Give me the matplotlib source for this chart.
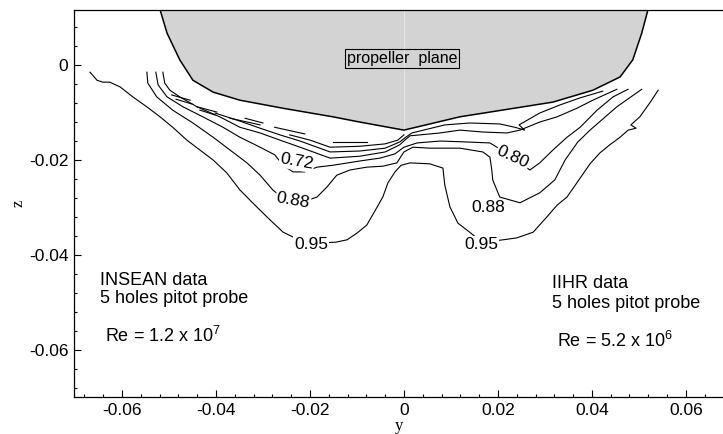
import matplotlib
matplotlib.use("Agg")
import matplotlib.pyplot as plt
from matplotlib.ticker import FixedLocator, MultipleLocator

plt.rcParams['font.family'] = ['Liberation Sans', 'DejaVu Sans']
plt.rcParams['axes.unicode_minus'] = False
plt.rcParams['mathtext.default'] = 'regular'

# hull section cut by the propeller plane
hull_y = [-0.0523, -0.0504, -0.0477, -0.0449, -0.0406, -0.0349, -0.0257, -0.0151, -0.0094,
          0.0, 0.0119, 0.0317, 0.0402, 0.0460, 0.0487, 0.0506, 0.0523]
hull_z = [0.0130, 0.0067, 0.0011, -0.0032, -0.0057, -0.0074, -0.0091, -0.0109, -0.0120,
          -0.0137, -0.0109, -0.0078, -0.0053, -0.0025, 0.0011, 0.0067, 0.0130]

# wake contour lines (y, z)
c95_y = [-0.0668, -0.0653, -0.0641, -0.0626, -0.0604, -0.0577, -0.0547, -0.0519, -0.0492, -0.0462,
         -0.0434, -0.0406, -0.0377, -0.0349, -0.0317, -0.0285, -0.0257, -0.0232, -0.0187, -0.0145,
         -0.0121, -0.0100, -0.0079, -0.0057, -0.0045, -0.0034, -0.0019, -0.0006, 0.0013, 0.0055,
         0.0083, 0.0087, 0.0098, 0.0115, 0.0140, 0.0166, 0.0211, 0.0240, 0.0275, 0.0304,
         0.0326, 0.0347, 0.0375, 0.0396, 0.0417, 0.0438, 0.0460, 0.0477, 0.0494, 0.0483,
         0.0502, 0.0523, 0.0541]
c95_z = [-0.0015, -0.0032, -0.0036, -0.0036, -0.0046, -0.0067, -0.0088, -0.0109, -0.0131, -0.0158,
         -0.0179, -0.0200, -0.0227, -0.0263, -0.0295, -0.0326, -0.0352, -0.0364, -0.0375, -0.0373,
         -0.0368, -0.0354, -0.0337, -0.0299, -0.0278, -0.0248, -0.0225, -0.0211, -0.0206, -0.0208,
         -0.0217, -0.0253, -0.0299, -0.0333, -0.0352, -0.0373, -0.0368, -0.0364, -0.0352, -0.0320,
         -0.0295, -0.0278, -0.0238, -0.0208, -0.0185, -0.0168, -0.0152, -0.0137, -0.0133, -0.0126,
         -0.0109, -0.0080, -0.0053]

c88_y = [-0.0547, -0.0545, -0.0526, -0.0492, -0.0449, -0.0406, -0.0370, -0.0334, -0.0306, -0.0279,
         -0.0253, -0.0221, -0.0185, -0.0164, -0.0143, -0.0115, -0.0079, -0.0045, -0.0015, 0.0,
         0.0019, 0.0055, 0.0119, 0.0168, 0.0183, 0.0187, 0.0189, 0.0204, 0.0247, 0.0289,
         0.0321, 0.0343, 0.0370, 0.0396, 0.0453, 0.0506]
c88_z = [-0.0015, -0.0038, -0.0067, -0.0095, -0.0122, -0.0152, -0.0179, -0.0206, -0.0232, -0.0263,
         -0.0284, -0.0290, -0.0278, -0.0257, -0.0232, -0.0221, -0.0215, -0.0213, -0.0206, -0.0183,
         -0.0173, -0.0175, -0.0175, -0.0183, -0.0194, -0.0221, -0.0242, -0.0278, -0.0290, -0.0269,
         -0.0242, -0.0200, -0.0162, -0.0137, -0.0088, -0.0051]

c80_y = [-0.0528, -0.0523, -0.0504, -0.0470, -0.0428, -0.0385, -0.0349, -0.0306, -0.0275, -0.0257,
         -0.0236, -0.0211, -0.0185, -0.0151, -0.0094, -0.0051, -0.0019, 0.0, 0.0028, 0.0077,
         0.0134, 0.0183, 0.0198, 0.0232, 0.0268, 0.0289, 0.0317, 0.0347, 0.0375, 0.0411,
         0.0445, 0.0477]
c80_z = [-0.0015, -0.0042, -0.0067, -0.0088, -0.0109, -0.0131, -0.0152, -0.0173, -0.0189, -0.0211,
         -0.0225, -0.0225, -0.0215, -0.0211, -0.0202, -0.0196, -0.0187, -0.0173, -0.0164, -0.0160,
         -0.0162, -0.0164, -0.0173, -0.0194, -0.0221, -0.0206, -0.0179, -0.0152, -0.0131, -0.0095,
         -0.0067, -0.0051]

c72_y = [-0.0513, -0.0509, -0.0498, -0.0477, -0.0440, -0.0392, -0.0349, -0.0306, -0.0264, -0.0221,
         -0.0157, -0.0094, -0.0040, -0.0009, 0.0002, 0.0013, 0.0077, 0.0119, 0.0168, 0.0219,
         0.0247, 0.0289, 0.0326, 0.0368, 0.0402, 0.0453]
c72_z = [-0.0015, -0.0038, -0.0053, -0.0067, -0.0088, -0.0109, -0.0131, -0.0143, -0.0158, -0.0173,
         -0.0196, -0.0192, -0.0183, -0.0168, -0.0158, -0.0149, -0.0143, -0.0137, -0.0141, -0.0143,
         -0.0137, -0.0120, -0.0109, -0.0091, -0.0074, -0.0051]

c64_y = [-0.0402, -0.0349, -0.0306, -0.0264, -0.0221, -0.0157, -0.0094, -0.0040, -0.0009, 0.0004,
         0.0017, 0.0087, 0.0140, 0.0204, 0.0236, 0.0257, 0.0245, 0.0289, 0.0332, 0.0375, 0.0423]
c64_z = [-0.0101, -0.0118, -0.0133, -0.0147, -0.0160, -0.0183, -0.0181, -0.0175, -0.0162, -0.0152,
         -0.0143, -0.0126, -0.0122, -0.0124, -0.0131, -0.0137, -0.0126, -0.0101, -0.0084, -0.0069,
         -0.0055]

c56_y = [-0.0243, -0.0200, -0.0157, -0.0094, -0.0040, -0.0013, 0.0]
c56_z = [-0.0147, -0.0158, -0.0173, -0.0171, -0.0166, -0.0158, -0.0147]

# short broken bits of the innermost level
dash_y0 = [-0.0494, -0.0485, -0.0440, -0.0434, -0.0370, -0.0338, -0.0275, -0.0151]
dash_y1 = [-0.0455, -0.0451, -0.0398, -0.0402, -0.0306, -0.0300, -0.0211, -0.0079]
dash_z0 = [-0.0063, -0.0072, -0.0088, -0.0095, -0.0112, -0.0112, -0.0131, -0.0162]
dash_z1 = [-0.0074, -0.0082, -0.0099, -0.0105, -0.0126, -0.0122, -0.0145, -0.0162]

# contour labels
label_text = ['0.72', '0.88', '0.95', '0.80', '0.88', '0.95']
label_y = [-0.0228, -0.0236, -0.0198, 0.0232, 0.0179, 0.0164]
label_z = [-0.0204, -0.0286, -0.0377, -0.0194, -0.0301, -0.0377]
label_rot = [-10, -10, 0, -25, 0, 0]

x_ticks = [-0.06, -0.04, -0.02, 0, 0.02, 0.04, 0.06]
x_tick_labels = ['-0.06', '-0.04', '-0.02', '0', '0.02', '0.04', '0.06']
z_ticks = [-0.06, -0.04, -0.02, 0]
z_tick_labels = ['-0.06', '-0.04', '-0.02', '0']

fig = plt.figure(figsize=(7.23, 4.34), dpi=100)
ax = fig.add_axes([0.1024, 0.0853, 0.8976, 0.8917])

# hull
ax.fill(hull_y, hull_z, color='#d3d3d3', lw=0, zorder=1)
ax.plot([0, 0], [hull_z[hull_y.index(0.0)], hull_z[0]], color='#e4e4e4', lw=0.8, zorder=1.5)
ax.plot(hull_y, hull_z, color='black', lw=1.1, zorder=2)

# contours
for ys, zs in [(c95_y, c95_z), (c88_y, c88_z), (c80_y, c80_z), (c72_y, c72_z),
               (c64_y, c64_z), (c56_y, c56_z)]:
    ax.plot(ys, zs, color='black', lw=0.8, zorder=3)
for i in range(len(dash_y0)):
    ax.plot([dash_y0[i], dash_y1[i]], [dash_z0[i], dash_z1[i]], color='black', lw=0.8, zorder=3)

for t, y, z, r in zip(label_text, label_y, label_z, label_rot):
    ax.text(y, z, t, ha='center', va='center', rotation=r, fontsize=12.5, zorder=4,
            bbox=dict(boxstyle='square,pad=0.05', fc='white', ec='none'))

ax.text(-0.0004, 0.0013, 'propeller  plane', ha='center', va='center', fontsize=11.5, zorder=4,
        bbox=dict(boxstyle='square,pad=0.12', fc='none', ec='black', lw=0.8))

# annotations
ax.text(-0.0647, -0.0463, 'INSEAN data', fontsize=13, va='baseline')
ax.text(-0.0647, -0.0501, '5 holes pitot probe', fontsize=13, va='baseline')
ax.text(-0.0636, -0.0583, 'Re = 1.2 x 10$^7$', fontsize=13, va='baseline')
ax.text(0.0315, -0.0469, 'IIHR data', fontsize=13, va='baseline')
ax.text(0.0315, -0.0512, '5 holes pitot probe', fontsize=13, va='baseline')
ax.text(0.0326, -0.0594, 'Re = 5.2 x 10$^6$', fontsize=13, va='baseline')

ax.set_xlim(-0.0702, 0.0679)
ax.set_ylim(-0.0699, 0.0116)

ax.xaxis.set_major_locator(FixedLocator(x_ticks))
ax.set_xticklabels(x_tick_labels)
ax.yaxis.set_major_locator(FixedLocator(z_ticks))
ax.set_yticklabels(z_tick_labels)
ax.xaxis.set_minor_locator(MultipleLocator(0.004))
ax.yaxis.set_minor_locator(MultipleLocator(0.004))
ax.tick_params(which='both', direction='in', top=False, right=False, labelsize=12.5)
ax.tick_params(which='major', length=5, width=0.8, pad=4)
ax.tick_params(which='minor', length=2.5, width=0.8)
ax.spines['right'].set_visible(False)
for s in ['left', 'bottom', 'top']:
    ax.spines[s].set_linewidth(0.9)

ax.set_xlabel('y', family='Liberation Serif', fontsize=12, labelpad=0)
ax.set_ylabel('z', family='Liberation Serif', fontsize=12, labelpad=2)

fig.savefig('out.png', dpi=100)
